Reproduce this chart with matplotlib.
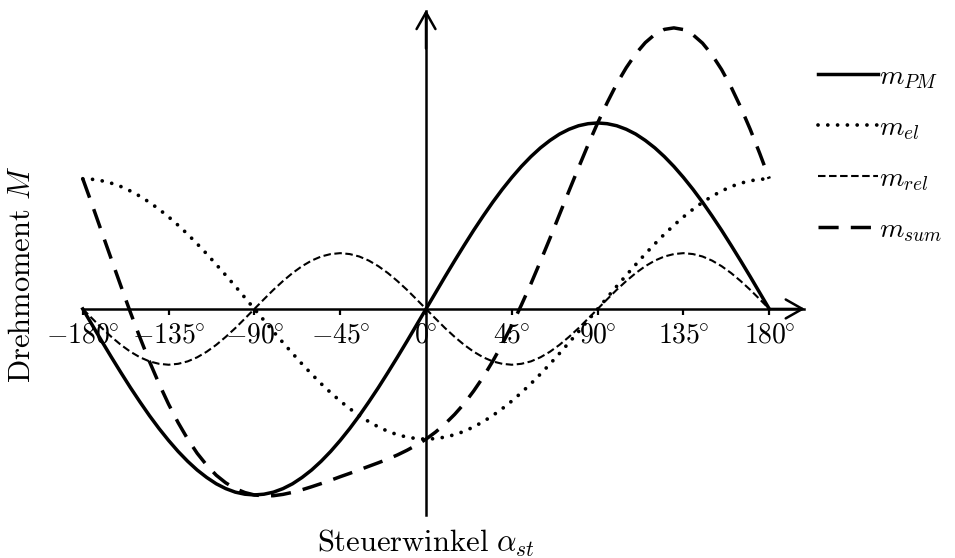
import numpy as np
import matplotlib
matplotlib.use('Agg')
import matplotlib.pyplot as plt

plt.rcParams['mathtext.fontset'] = 'cm'

# Steuerwinkel in Grad, Schritt 5°
winkel = list(range(-180, 181, 5))

# normierte Momente (Amplitude m_PM = 1)
m_pm = [0.000, -0.087, -0.174, -0.259, -0.342, -0.423, -0.500, -0.574, -0.643, -0.707,
        -0.766, -0.819, -0.866, -0.906, -0.940, -0.966, -0.985, -0.996, -1.000,
        -0.996, -0.985, -0.966, -0.940, -0.906, -0.866, -0.819, -0.766, -0.707,
        -0.643, -0.574, -0.500, -0.423, -0.342, -0.259, -0.174, -0.087, 0.000,
        0.087, 0.174, 0.259, 0.342, 0.423, 0.500, 0.574, 0.643, 0.707,
        0.766, 0.819, 0.866, 0.906, 0.940, 0.966, 0.985, 0.996, 1.000,
        0.996, 0.985, 0.966, 0.940, 0.906, 0.866, 0.819, 0.766, 0.707,
        0.643, 0.574, 0.500, 0.423, 0.342, 0.259, 0.174, 0.087, 0.000]
m_el = [0.700, 0.697, 0.689, 0.676, 0.658, 0.634, 0.606, 0.573, 0.536, 0.495,
        0.450, 0.402, 0.350, 0.296, 0.239, 0.181, 0.122, 0.061, 0.000,
        -0.061, -0.122, -0.181, -0.239, -0.296, -0.350, -0.402, -0.450, -0.495,
        -0.536, -0.573, -0.606, -0.634, -0.658, -0.676, -0.689, -0.697, -0.700,
        -0.697, -0.689, -0.676, -0.658, -0.634, -0.606, -0.573, -0.536, -0.495,
        -0.450, -0.402, -0.350, -0.296, -0.239, -0.181, -0.122, -0.061, 0.000,
        0.061, 0.122, 0.181, 0.239, 0.296, 0.350, 0.402, 0.450, 0.495,
        0.536, 0.573, 0.606, 0.634, 0.658, 0.676, 0.689, 0.697, 0.700]
m_rel = [0.000, -0.052, -0.103, -0.150, -0.193, -0.230, -0.260, -0.282, -0.295, -0.300,
         -0.295, -0.282, -0.260, -0.230, -0.193, -0.150, -0.103, -0.052, 0.000,
         0.052, 0.103, 0.150, 0.193, 0.230, 0.260, 0.282, 0.295, 0.300,
         0.295, 0.282, 0.260, 0.230, 0.193, 0.150, 0.103, 0.052, 0.000,
         -0.052, -0.103, -0.150, -0.193, -0.230, -0.260, -0.282, -0.295, -0.300,
         -0.295, -0.282, -0.260, -0.230, -0.193, -0.150, -0.103, -0.052, 0.000,
         0.052, 0.103, 0.150, 0.193, 0.230, 0.260, 0.282, 0.295, 0.300,
         0.295, 0.282, 0.260, 0.230, 0.193, 0.150, 0.103, 0.052, 0.000]
m_sum = [0.700, 0.558, 0.412, 0.267, 0.123, -0.019, -0.154, -0.283, -0.402, -0.512,
         -0.611, -0.699, -0.776, -0.840, -0.894, -0.935, -0.966, -0.987, -1.000,
         -1.005, -1.004, -0.997, -0.986, -0.972, -0.956, -0.939, -0.921, -0.902,
         -0.884, -0.865, -0.846, -0.827, -0.807, -0.785, -0.760, -0.732, -0.700,
         -0.662, -0.618, -0.567, -0.509, -0.441, -0.366, -0.281, -0.188, -0.088,
         0.021, 0.135, 0.256, 0.380, 0.508, 0.635, 0.760, 0.883, 1.000,
         1.109, 1.210, 1.297, 1.372, 1.432, 1.476, 1.503, 1.511, 1.502,
         1.474, 1.429, 1.366, 1.287, 1.193, 1.085, 0.966, 0.836, 0.700]

tick_pos = [-180, -135, -90, -45, 0, 45, 90, 135, 180]
tick_labels = [r'$-180^{\!\!\circ}$', r'$-135^{\!\!\circ}$', r'$-90^{\!\!\circ}$',
               r'$-45^{\!\!\circ}$', r'$0^{\!\!\circ}$', r'$45^{\!\!\circ}$',
               r'$90^{\!\!\circ}$', r'$135^{\!\!\circ}$', r'$180^{\!\!\circ}$']

fig = plt.figure(figsize=(9.55, 5.58), dpi=100)
ax = fig.add_axes([0, 0, 1, 1])
ax.set_xlim(-223.4, 277.4)
ax.set_ylim(-1.339, 1.661)

lw_ax = 1.8
for s in ['top', 'right']:
    ax.spines[s].set_visible(False)
ax.spines['left'].set_position(('data', 0))
ax.spines['bottom'].set_position(('data', 0))
ax.spines['left'].set_bounds(-1.108, 1.60)
ax.spines['bottom'].set_bounds(-180, 198)
ax.spines['left'].set_linewidth(lw_ax)
ax.spines['bottom'].set_linewidth(lw_ax)

pfeil = dict(arrowstyle='->,head_length=0.6,head_width=0.34', lw=lw_ax,
             color='black', shrinkA=0, shrinkB=0, mutation_scale=20)
ax.annotate('', xy=(198.7, 0), xytext=(180, 0), arrowprops=pfeil)
ax.annotate('', xy=(0, 1.608), xytext=(0, 1.4), arrowprops=pfeil)

ax.set_yticks([])
ax.set_xticks(tick_pos, tick_labels)
ax.tick_params(axis='x', direction='out', length=4, width=1.6, pad=4,
               labelsize=20)

l_el, = ax.plot(winkel, m_el, color='black', lw=2.7, dashes=(0.01, 2.6),
                dash_capstyle='round', label=r'$m_{el}$')
l_rel, = ax.plot(winkel, m_rel, color='black', lw=1.5, dashes=(3.6, 1.7),
                 label=r'$m_{rel}$')
l_sum, = ax.plot(winkel, m_sum, color='black', lw=2.5, dashes=(5.8, 3.5),
                 label=r'$m_{sum}$')
l_pm, = ax.plot(winkel, m_pm, color='black', lw=2.5, label=r'$m_{PM}$')

fig.text(22 / 955, 1 - 274 / 558, r'$\mathrm{Drehmoment}\ M$', rotation=90,
         ha='center', va='center', fontsize=22)
fig.text(426 / 955, 1 - 552 / 558, r'$\mathrm{Steuerwinkel}\ \alpha_{st}$',
         ha='center', va='baseline', fontsize=22)

fig.legend(handles=[l_pm, l_el, l_rel, l_sum], loc='upper left',
           bbox_to_anchor=(818 / 955, 1 - 62 / 558), frameon=False,
           borderpad=0, borderaxespad=0, fontsize=20, handlelength=2.15,
           handletextpad=0.05, labelspacing=0.8)

fig.savefig('out.png', dpi=100)
